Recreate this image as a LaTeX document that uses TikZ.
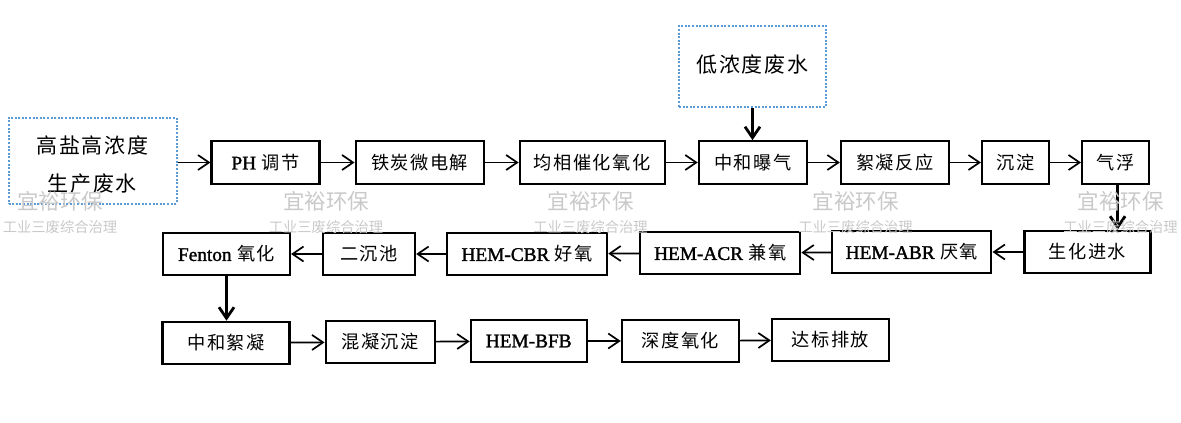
\documentclass[tikz,border=0pt]{standalone}
\usepackage{xcolor}
\usepackage{fontspec}
\usepackage{tikz}
\usetikzlibrary{arrows.meta,positioning,calc}
\setmainfont{Noto Sans CJK SC}
\newfontfamily\latn{Liberation Serif}[FakeBold=1.5,Scale=1.06]
\newfontfamily\spaced{Noto Sans CJK SC}[LetterSpace=8]
\definecolor{dotblue}{HTML}{5B9BD5}
\definecolor{markgray}{HTML}{C9C9C9}
\tikzset{
    procbox/.style={rectangle, draw, line width=2.1pt, inner sep=0pt, minimum height=42.5pt, font=\fontsize{18.2}{21}\selectfont\spaced},
    srcbox/.style={rectangle, draw=dotblue, line width=2pt, dash pattern=on 2pt off 1.6pt, inner sep=0pt, align=center, font=\fontsize{21}{38}\selectfont\spaced},
    flow/.style={-{Straight Barb[length=11pt,width=15pt]}, line width=1.7pt},
    drop/.style={-{Straight Barb[length=11pt,width=15pt]}, line width=2.8pt},
    markbig/.style={text=markgray, inner sep=0pt, font=\fontsize{21.5}{24}\selectfont},
    marksmall/.style={text=markgray, inner sep=0pt, font=\fontsize{14.3}{16}\selectfont}
}
\begin{document}
\begin{tikzpicture}[x=1pt, y=-1pt]
        \useasboundingbox (0,0) rectangle (1181,423);
        % source boxes
        \node (high) [srcbox, minimum width=168pt, minimum height=86pt] at (92.5,160.5) {\rule{0pt}{25pt}高盐高浓度\\生产废水};
        \node (low) [srcbox, minimum width=147pt, minimum height=81pt] at (752.5,66.5) {\raisebox{5pt}{低浓度废水}};
        % first row
        \node (ph) [procbox, minimum width=108pt] at (265.5,162.5) {{\latn PH} 调节};
        \node (iron) [procbox, minimum width=128pt, right=34pt of ph] {铁炭微电解};
        \node (cat) [procbox, minimum width=145pt, right=34pt of iron] {均相催化氧化};
        \node (neut) [procbox, minimum width=108pt, right=32pt of cat] {中和曝气};
        \node (floc) [procbox, minimum width=108pt, right=32pt of neut] {絮凝反应};
        \node (settle) [procbox, minimum width=67pt, right=31pt of floc] {沉淀};
        \node (air) [procbox, minimum width=67pt, right=31pt of settle] {气浮};
        % second row
        \node (bio) [procbox, minimum width=126pt] at (1087.5,252) {生化进水};
        \node (abr) [procbox, minimum width=159pt, left=31pt of bio] {{\latn HEM-ABR} 厌氧};
        \node (acr) [procbox, minimum width=160pt, left=30pt of abr, yshift=-1pt] {{\latn HEM-ACR} 兼氧};
        \node (cbr) [procbox, minimum width=160pt, left=31pt of acr, yshift=-1pt] {{\latn HEM-CBR} 好氧};
        \node (sec) [procbox, minimum width=92pt, left=30pt of cbr] {二沉池};
        \node (fent) [procbox, minimum width=127pt, left=31pt of sec] {{\latn Fenton} 氧化};
        % third row
        \node (nfloc) [procbox, minimum width=127pt] at (226,343) {中和絮凝};
        \node (coag) [procbox, minimum width=109pt, right=34pt of nfloc, yshift=1pt] {混凝沉淀};
        \node (bfb) [procbox, minimum width=116pt, right=34pt of coag, yshift=1pt] {\latn HEM-BFB};
        \node (deep) [procbox, minimum width=117pt, right=33pt of bfb] {深度氧化};
        \node (out) [procbox, minimum width=117pt, right=31pt of deep, yshift=1pt] {达标排放};
        % connectors
        \coordinate (airfoot) at ($(air.south)+(2,0)$);
        \draw[flow] (high.east |- ph.west) -- (ph.west);
        \draw[flow] (ph) -- (iron);
        \draw[flow] (iron) -- (cat);
        \draw[flow] (cat) -- (neut);
        \draw[flow] (neut) -- (floc);
        \draw[flow] (floc) -- (settle);
        \draw[flow] (settle) -- (air);
        \draw[drop] (low.south) -- (low.south |- neut.north);
        \draw[drop] (airfoot) -- (airfoot |- bio.north);
        \draw[flow] (bio) -- (abr);
        \draw[flow] (abr) -- (acr);
        \draw[flow] (acr) -- (cbr);
        \draw[flow] (cbr) -- (sec);
        \draw[flow] (sec) -- (fent);
        \draw[drop] (fent.south) -- (fent.south |- nfloc.north);
        \draw[flow] (nfloc) -- (coag);
        \draw[flow] (coag) -- (bfb);
        \draw[flow] (bfb) -- (deep);
        \draw[flow] (deep) -- (out);
        % watermark
        \foreach \wx/\wn in {60/a, 326/b, 590.5/c, 855.5/d, 1120.5/e} {
            \node (big\wn) [markbig] at (\wx,201) {宜裕环保};
            \node (small\wn) [marksmall] at (\wx,227) {工业三废综合治理};
        }
    \end{tikzpicture}
\end{document}
